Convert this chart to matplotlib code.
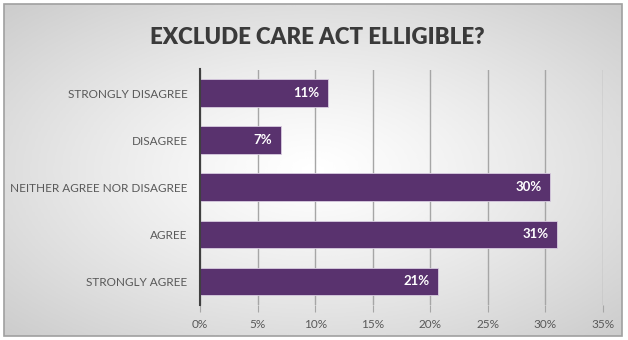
import numpy as np
import matplotlib.pyplot as plt
from matplotlib.patches import Rectangle
from matplotlib.ticker import FuncFormatter

# Survey data
categories = ["STRONGLY DISAGREE", "DISAGREE", "NEITHER AGREE NOR DISAGREE", "AGREE", "STRONGLY AGREE"]
values = [0.111, 0.070, 0.304, 0.310, 0.207]
value_labels = ["11%", "7%", "30%", "31%", "21%"]
xticks = [0, 0.05, 0.10, 0.15, 0.20, 0.25, 0.30, 0.35]

plt.rcParams['font.family'] = ['Lato', 'DejaVu Sans']

fig = plt.figure(figsize=(6.28, 3.40), dpi=100)

# Background: radial grey gradient inside a thin frame
bg = fig.add_axes([4 / 628, 4 / 340, 618 / 628, 332 / 340])
yy, xx = np.mgrid[-1:1:200j, -1:1:200j]
r = np.sqrt(xx ** 2 + yy ** 2) / np.sqrt(2)
shade = 1.0 - 0.2 * r ** 1.2
bg.imshow(shade, cmap='gray', vmin=0, vmax=1, extent=[0, 1, 0, 1], aspect='auto', interpolation='bicubic')
bg.set_axis_off()
fig.patches.append(Rectangle((4 / 628, 4 / 340), 618 / 628, 332 / 340, transform=fig.transFigure,
                             fill=False, edgecolor='#a0a0a0', linewidth=1.2))

ax = fig.add_axes([200 / 628, 35 / 340, 403 / 628, 235.5 / 340])
ax.patch.set_alpha(0)

y = np.arange(len(categories))
bars = ax.barh(y, values, height=0.585, color='#59326e', edgecolor='#d8cce0', linewidth=0.6, zorder=3)
ax.set_ylim(len(categories) - 0.5, -0.5)
ax.set_yticks(y)
ax.set_yticklabels(categories, fontsize=8.5, color='#595959')

ax.set_xlim(0, 0.35)
ax.set_xticks(xticks)
ax.xaxis.set_major_formatter(FuncFormatter(lambda v, p: f"{v * 100:.0f}%"))
ax.tick_params(axis='x', direction='out', length=5, color='#a6a6a6', labelsize=8.5,
               labelcolor='#595959', pad=5)
ax.tick_params(axis='y', length=0, pad=9)
ax.grid(axis='x', color='#a6a6a6', linewidth=1, zorder=0)

for s in ['top', 'right', 'bottom']:
    ax.spines[s].set_visible(False)
ax.spines['left'].set_color('#404040')
ax.spines['left'].set_linewidth(1.5)
ax.spines['left'].set_zorder(4)

for b, lab in zip(bars, value_labels):
    ax.annotate(lab, (b.get_width(), b.get_y() + b.get_height() / 2), xytext=(-6, 0),
                textcoords='offset points', ha='right', va='center',
                color='white', fontsize=9.5, fontweight='bold', zorder=5)

fig.text(0.505, 1 - 37 / 340, "EXCLUDE CARE ACT ELLIGIBLE?", ha='center', va='center',
         fontsize=16, fontweight='heavy', color='#3a3a3a')

fig.savefig('out.png', dpi=100)
